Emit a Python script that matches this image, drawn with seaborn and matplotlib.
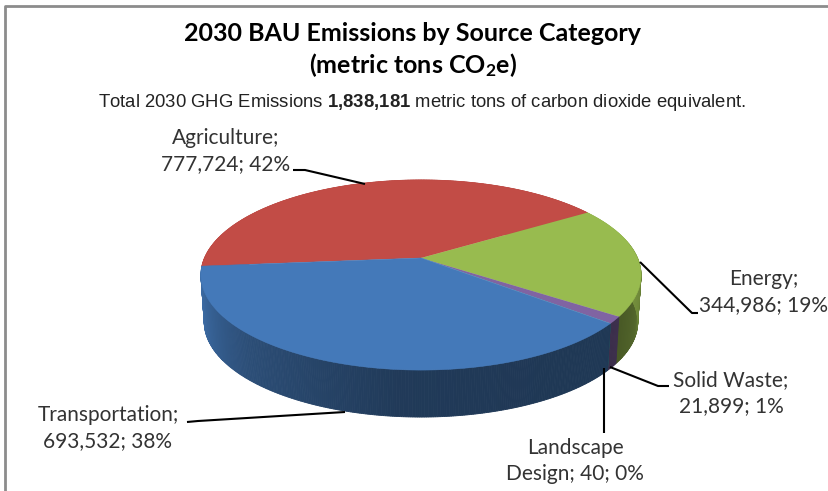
"""
    2030 BAU emissions, pie with a fake 3D look
"""
import numpy as np
import matplotlib
matplotlib.use('Agg')
import matplotlib.pyplot as plt
from matplotlib.patches import PathPatch
from matplotlib.path import Path
import seaborn as sns

# Data
categories = ['Agriculture', 'Energy', 'Solid Waste', 'Landscape Design', 'Transportation']
emissions = [777724, 344986, 21899, 40, 693532]
percents = [42, 19, 1, 0, 38]
slice_colors = ['#C24C46', '#98BB4F', '#8064A2', '#4BACC6', '#4479B9']

title_lines = ['2030 BAU Emissions by Source Category', '(metric tons CO$_2$e)']
subtitle = r'Total 2030 GHG Emissions $\mathbf{1{,}838{,}181}$ metric tons of carbon dioxide equivalent.'

# Where the labels and their leader lines go, in pixels
label_pos = [(226, 151), (764, 292), (731, 393), (575, 461), (108, 428)]
label_first = ['Agriculture;', 'Energy;', 'Solid Waste;', 'Landscape', 'Transportation;']
leaders = [
    [(293, 170), (305, 170), (365, 184)],
    [(640, 262), (692, 313), (698, 313)],
    [(610, 367), (658, 386), (669, 386)],
    [(604, 368), (604, 433)],
    [(187, 422), (198, 421), (345, 412)],
]

# Shape of the pie in pixels
cx, cy = 421, 258
radius = 216.5
squash = 92
persp = 0.179
depth = 47

sns.set_theme(style='white')
plt.rcParams['font.family'] = ['Lato', 'DejaVu Sans']
plt.rcParams['mathtext.fontset'] = 'custom'
plt.rcParams['mathtext.bf'] = 'Liberation Sans:bold'
plt.rcParams['mathtext.default'] = 'regular'


def project(x, y):
    # circle to the tilted view, the near edge comes out bigger
    w = 1 + persp * y
    return cx + radius * x / w, cy - squash * y / w


fig = plt.figure(figsize=(8.29, 4.91), dpi=100)
ax = fig.add_axes([0, 0, 1, 1])
wedges, _ = ax.pie(emissions, colors=slice_colors, startangle=185, counterclock=False)

# side shading by angle around the rim
shade_ang = [170, 185, 200, 225, 265, 300, 322, 340, 352, 370]
shade_val = [0.95, 0.95, 0.85, 0.65, 0.48, 0.46, 0.46, 0.55, 0.72, 0.80]

for w, col in zip(wedges, slice_colors):
    w.set_visible(False)
    rgb = np.array(matplotlib.colors.to_rgb(col))
    t1, t2 = w.theta1, w.theta2
    t = np.radians(np.linspace(t1, t2, max(int(abs(t2 - t1) * 2), 2) + 1))
    rx, ry = project(np.cos(t), np.sin(t))

    # side wall, a strip at a time
    bx = cx + (rx - cx) * 0.985
    by = ry + depth
    for i in range(len(t) - 1):
        ang = np.degrees(t[i]) % 360
        if ang < 10:
            ang += 360
        f = np.interp(ang, shade_ang, shade_val)
        ax.fill([rx[i], rx[i + 1], bx[i + 1], bx[i]], [ry[i], ry[i + 1], by[i + 1], by[i]],
                color=rgb * f, lw=0.6, zorder=1)

    # top face, using the path of the wedge pie made
    verts = np.column_stack([[0] + list(np.cos(t)), [0] + list(np.sin(t))])
    px, py = project(verts[:, 0], verts[:, 1])
    ax.add_patch(PathPatch(Path(np.column_stack([px, py]), closed=False), facecolor=col,
                           edgecolor=col, lw=0.4, zorder=2))

# labels
for name, first, val, pct, pos in zip(categories, label_first, emissions, percents, label_pos):
    if name == 'Landscape Design':
        txt = f'{first}\nDesign; {val:,}; {pct}%'
    else:
        txt = f'{first}\n{val:,}; {pct}%'
    ax.text(pos[0], pos[1], txt, ha='center', va='center', fontsize=15, color='#333333',
            linespacing=1.42, zorder=5, clip_on=True)

for pts in leaders:
    xs, ys = zip(*pts)
    ax.plot(xs, ys, color='black', lw=1.5, zorder=4, solid_capstyle='butt')

# titles
ax.text(413, 33, title_lines[0], ha='center', va='center', fontsize=18, fontweight='bold', color='black')
ax.text(413, 65, title_lines[1], ha='center', va='center', fontsize=18, fontweight='bold', color='black')
ax.text(422.5, 102, subtitle, ha='center', va='center', fontsize=13.3, color='#222222',
        family='Liberation Sans')

# frame of the pasted image
ax.plot([5.5, 5.5, 829], [491, 5.5, 5.5], color='#8c8c8c', lw=2, zorder=6)

ax.set_aspect('auto')
ax.set_xlim(0, 829)
ax.set_ylim(491, 0)
ax.axis('off')
fig.savefig('out.png', dpi=100)
